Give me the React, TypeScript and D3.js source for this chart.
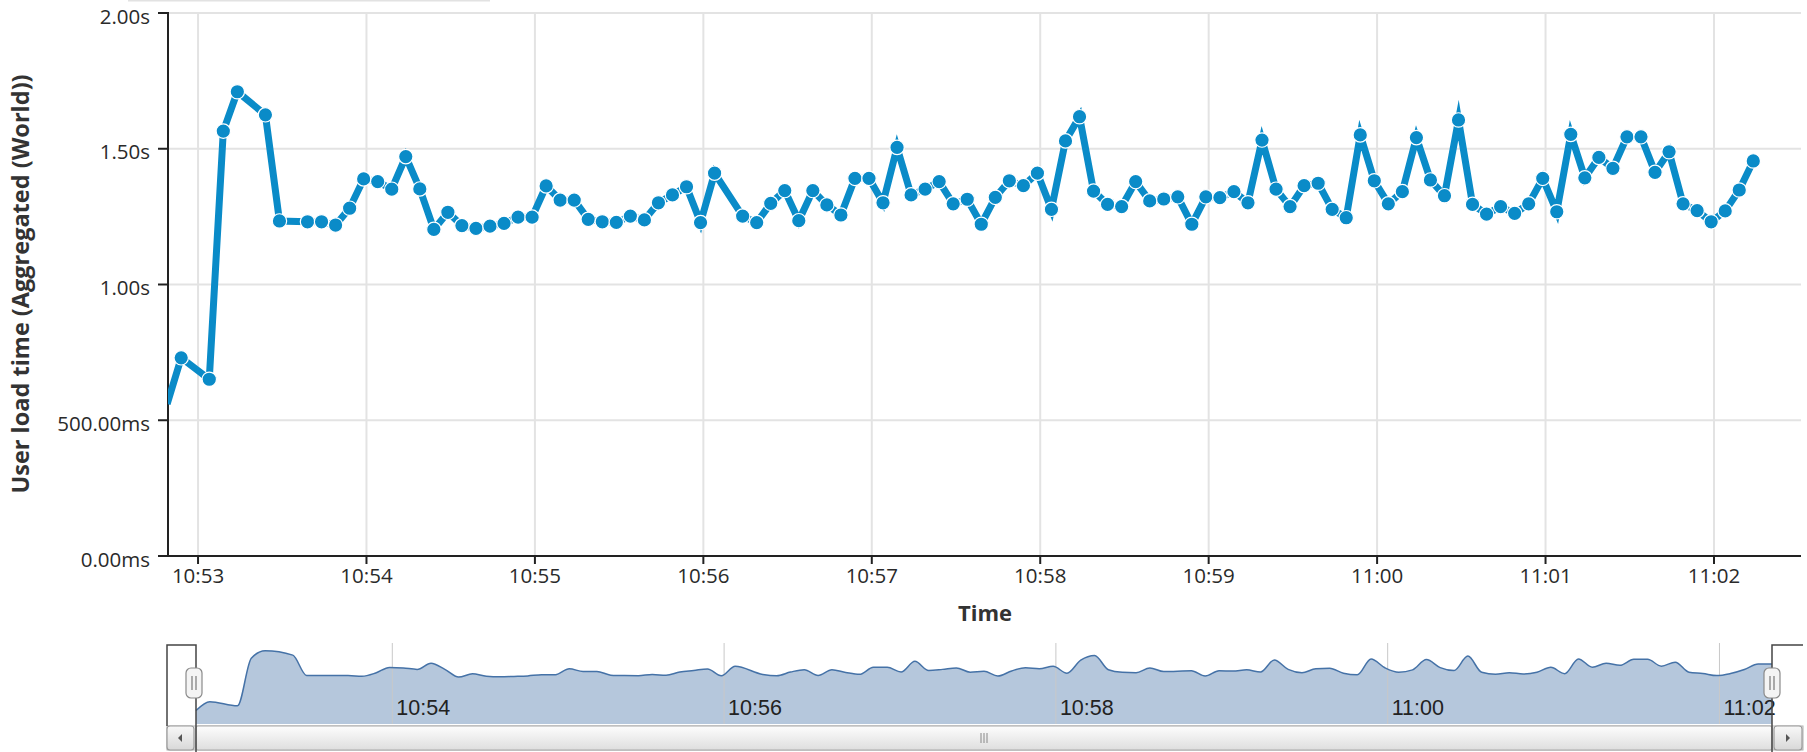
import React from "react";
import * as d3 from "d3";

// ---- data ----
const sampleTimes = [
  "10:52:49", "10:52:54", "10:53:04", "10:53:09", "10:53:14", "10:53:24", "10:53:29", "10:53:39",
  "10:53:44", "10:53:49", "10:53:54", "10:53:59", "10:54:04", "10:54:09", "10:54:14", "10:54:19",
  "10:54:24", "10:54:29", "10:54:34", "10:54:39", "10:54:44", "10:54:49", "10:54:54", "10:54:59",
  "10:55:04", "10:55:09", "10:55:14", "10:55:19", "10:55:24", "10:55:29", "10:55:34", "10:55:39",
  "10:55:44", "10:55:49", "10:55:54", "10:55:59", "10:56:04", "10:56:14", "10:56:19", "10:56:24",
  "10:56:29", "10:56:34", "10:56:39", "10:56:44", "10:56:49", "10:56:54", "10:56:59", "10:57:04",
  "10:57:09", "10:57:14", "10:57:19", "10:57:24", "10:57:29", "10:57:34", "10:57:39", "10:57:44",
  "10:57:49", "10:57:54", "10:57:59", "10:58:04", "10:58:09", "10:58:14", "10:58:19", "10:58:24",
  "10:58:29", "10:58:34", "10:58:39", "10:58:44", "10:58:49", "10:58:54", "10:58:59", "10:59:04",
  "10:59:09", "10:59:14", "10:59:19", "10:59:24", "10:59:29", "10:59:34", "10:59:39", "10:59:44",
  "10:59:49", "10:59:54", "10:59:59", "11:00:04", "11:00:09", "11:00:14", "11:00:19", "11:00:24",
  "11:00:29", "11:00:34", "11:00:39", "11:00:44", "11:00:49", "11:00:54", "11:00:59", "11:01:04",
  "11:01:09", "11:01:14", "11:01:19", "11:01:24", "11:01:29", "11:01:34", "11:01:39", "11:01:44",
  "11:01:49", "11:01:54", "11:01:59", "11:02:04", "11:02:09", "11:02:14",
];

const loadTimeSeconds = [
  0.56, 0.73, 0.651, 1.565, 1.71, 1.625, 1.234, 1.231,
  1.231, 1.219, 1.281, 1.389, 1.379, 1.351, 1.471, 1.352,
  1.203, 1.266, 1.217, 1.207, 1.215, 1.225, 1.248, 1.248,
  1.363, 1.311, 1.311, 1.24, 1.231, 1.229, 1.252, 1.238,
  1.301, 1.33, 1.36, 1.228, 1.41, 1.252, 1.228, 1.299,
  1.346, 1.235, 1.346, 1.293, 1.256, 1.391, 1.391, 1.301,
  1.505, 1.33, 1.351, 1.379, 1.297, 1.314, 1.222, 1.321,
  1.382, 1.364, 1.41, 1.277, 1.529, 1.618, 1.344, 1.295,
  1.287, 1.379, 1.308, 1.315, 1.323, 1.222, 1.323, 1.32,
  1.342, 1.301, 1.532, 1.351, 1.287, 1.364, 1.373, 1.277,
  1.246, 1.551, 1.382, 1.297, 1.342, 1.541, 1.385, 1.327,
  1.606, 1.295, 1.259, 1.287, 1.262, 1.297, 1.391, 1.268,
  1.553, 1.393, 1.468, 1.428, 1.544, 1.544, 1.413, 1.489,
  1.297, 1.272, 1.231, 1.271, 1.348, 1.455,
];

const mainTimeRange = ["10:52:49.3", "11:02:31"];
const navigatorTimeRange = ["10:52:49", "11:02:19"];
const navigatorValueRange = [0.3, 1.82];

const yTickValues = [0, 0.5, 1, 1.5, 2];
const yTickLabels = ["0.00ms", "500.00ms", "1.00s", "1.50s", "2.00s"];
const xTickLabels = ["10:53", "10:54", "10:55", "10:56", "10:57", "10:58", "10:59", "11:00", "11:01", "11:02"];
const navTickLabels = ["10:54", "10:56", "10:58", "11:00", "11:02"];
const yAxisTitle = "User load time (Aggregated (World))";
const xAxisTitle = "Time";

// ---- helpers ----
const parseT = (s: string) => {
  const parts = s.split(":");
  const secF = parts.length > 2 ? parseFloat(parts[2]) : 0;
  return new Date(2020, 0, 1, +parts[0], +parts[1], Math.floor(secF), Math.round((secF % 1) * 1000));
};

const W = 1807;
const H = 752;
const plot = { left: 168, right: 1801, top: 13, bottom: 556 };
const nav = { left: 196, right: 1772, top: 645, bottom: 724 };

const LINE = "#0a8bc8";
const FONT = "'Open Sans', 'DejaVu Sans', sans-serif";

export default function App() {
  const points = sampleTimes.map((t, i) => ({ t: parseT(t), v: loadTimeSeconds[i] }));

  const x = d3.scaleTime().domain(mainTimeRange.map(parseT)).range([plot.left, plot.right]);
  const y = d3.scaleLinear().domain([0, 2]).range([plot.bottom, plot.top]);

  const nx = d3.scaleTime().domain(navigatorTimeRange.map(parseT)).range([nav.left, nav.right]);
  const ny = d3.scaleLinear().domain(navigatorValueRange).range([nav.bottom, nav.top]);

  const line = d3
    .line<{ t: Date; v: number }>()
    .x((d) => x(d.t))
    .y((d) => y(d.v));

  const navPts = [...points, { t: nx.domain()[1], v: points[points.length - 1].v }];
  const navArea = d3
    .area<{ t: Date; v: number }>()
    .x((d) => nx(d.t))
    .y0(nav.bottom)
    .y1((d) => ny(d.v))
    .curve(d3.curveMonotoneX);
  const navLine = d3
    .line<{ t: Date; v: number }>()
    .x((d) => nx(d.t))
    .y((d) => ny(d.v))
    .curve(d3.curveMonotoneX);

  const xTicks = xTickLabels.map((l) => ({ l, px: x(parseT(l)) }));
  const navTicks = navTickLabels.map((l) => ({ l, px: nx(parseT(l)) }));
  const d0 = x.domain()[0].getTime();
  const d1 = x.domain()[1].getTime();

  const sbTop = 726;
  const sbBot = 750;

  return (
    <svg
      width={W}
      height={H}
      style={{ position: "absolute", left: 0, top: 0, background: "#fff" }}
      xmlns="http://www.w3.org/2000/svg"
    >
      <defs>
        <clipPath id="plotClip">
          <rect x={plot.left} y={0} width={plot.right - plot.left + 6} height={plot.bottom} />
        </clipPath>
        <linearGradient id="sbGrad" x1="0" y1="0" x2="0" y2="1">
          <stop offset="0" stopColor="#fdfdfd" />
          <stop offset="1" stopColor="#dedede" />
        </linearGradient>
        <linearGradient id="btnGrad" x1="0" y1="0" x2="0" y2="1">
          <stop offset="0" stopColor="#f8f8f8" />
          <stop offset="1" stopColor="#d8d8d8" />
        </linearGradient>
      </defs>

      {/* faint top border */}
      <line x1={128} x2={490} y1={0.75} y2={0.75} stroke="#e2e2e2" strokeWidth={1.5} />

      {/* gridlines */}
      {yTickValues.map((v) => (
        <line key={"gy" + v} x1={plot.left} x2={plot.right} y1={y(v)} y2={y(v)} stroke="#e3e3e3" strokeWidth={2} />
      ))}
      {xTicks.map((tk) => (
        <line key={"gx" + tk.l} x1={tk.px} x2={tk.px} y1={plot.top} y2={plot.bottom} stroke="#e3e3e3" strokeWidth={2} />
      ))}

      {/* axes */}
      <line x1={plot.left} x2={plot.left} y1={plot.top - 1} y2={plot.bottom + 1} stroke="#222" strokeWidth={2} />
      <line x1={plot.left - 1} x2={plot.right} y1={plot.bottom} y2={plot.bottom} stroke="#222" strokeWidth={2} />
      {yTickValues.map((v, i) => (
        <g key={"ty" + v}>
          <line x1={plot.left - 10} x2={plot.left} y1={y(v)} y2={y(v)} stroke="#222" strokeWidth={2} />
          <text
            x={150}
            y={y(v) + 10.5}
            textAnchor="end"
            fontFamily={FONT}
            fontSize={20.5}
            fill="#2a2a2a"
          >
            {yTickLabels[i]}
          </text>
        </g>
      ))}
      {xTicks.map((tk) => (
        <g key={"tx" + tk.l}>
          <line x1={tk.px} x2={tk.px} y1={plot.bottom} y2={plot.bottom + 8} stroke="#222" strokeWidth={2} />
          <text x={tk.px} y={583} textAnchor="middle" fontFamily={FONT} fontSize={20.5} fill="#2a2a2a">
            {tk.l}
          </text>
        </g>
      ))}

      {/* axis titles */}
      <text
        transform={`translate(29,284) rotate(-90)`}
        textAnchor="middle"
        fontFamily={FONT}
        fontWeight="bold"
        fontSize={23.5}
        fill="#333"
      >
        {yAxisTitle}
      </text>
      <text x={985} y={621} textAnchor="middle" fontFamily={FONT} fontWeight="bold" fontSize={22} fill="#333">
        {xAxisTitle}
      </text>

      {/* series */}
      <g clipPath="url(#plotClip)">
        <path
          d={line(points) || ""}
          fill="none"
          stroke={LINE}
          strokeWidth={7}
          strokeLinejoin="miter"
          strokeMiterlimit={10}
        />
        {points
          .filter((p) => p.t.getTime() > d0 && p.t.getTime() < d1)
          .map((p, i) => (
            <circle key={i} cx={x(p.t)} cy={y(p.v)} r={7.2} fill={LINE} stroke="#fff" strokeWidth={1.2} />
          ))}
      </g>

      {/* navigator */}
      <path d={navArea(navPts) || ""} fill="rgba(69,114,167,0.4)" stroke="none" />
      {navTicks.map((tk) => (
        <g key={"nt" + tk.l}>
          <line x1={tk.px} x2={tk.px} y1={nav.top - 2} y2={nav.bottom} stroke="#c8c8c8" strokeWidth={1} />
          <text x={tk.px + 4} y={715} fontFamily="'Liberation Sans', Arial, sans-serif" fontSize={21.5} fill="#222">
            {tk.l}
          </text>
        </g>
      ))}
      <path d={navLine(navPts) || ""} fill="none" stroke="#4572A7" strokeWidth={1.5} />

      {/* scrollbar */}
      <rect x={167} y={sbTop} width={1803 - 167} height={sbBot - sbTop} fill="url(#sbGrad)" stroke="#b0b0b0" strokeWidth={1} />
      <rect x={nav.left} y={sbTop} width={nav.right - nav.left} height={sbBot - sbTop} fill="url(#sbGrad)" stroke="#a8a8a8" strokeWidth={1} rx={2} />
      <rect x={167} y={sbTop} width={nav.left - 167 - 2} height={sbBot - sbTop} fill="url(#btnGrad)" stroke="#9a9a9a" strokeWidth={1.2} rx={3} />
      <rect x={nav.right + 2} y={sbTop} width={1803 - nav.right - 3} height={sbBot - sbTop} fill="url(#btnGrad)" stroke="#9a9a9a" strokeWidth={1.2} rx={3} />
      <path d={`M182,734 L178,738 L182,742 Z`} fill="#555" />
      <path d={`M1786,734 L1790,738 L1786,742 Z`} fill="#555" />
      {[-3, 0, 3].map((dx) => (
        <line key={"g" + dx} x1={(nav.left + nav.right) / 2 + dx} x2={(nav.left + nav.right) / 2 + dx} y1={733} y2={743} stroke="#888" strokeWidth={1} />
      ))}

      {/* outline */}
      <path d={`M167,${sbTop} V${nav.top} H${nav.left} V${H}`} fill="none" stroke="#444" strokeWidth={1.5} />
      <path d={`M1803,${nav.top} H${nav.right} V${H}`} fill="none" stroke="#444" strokeWidth={1.5} />

      {/* handles */}
      {[nav.left - 2, nav.right].map((hx) => (
        <g key={"h" + hx}>
          <rect x={hx - 8} y={668} width={16} height={30} rx={5} fill="#f4f4f4" stroke="#8a8a8a" strokeWidth={1.2} />
          <line x1={hx - 2} x2={hx - 2} y1={676} y2={690} stroke="#777" strokeWidth={1.2} />
          <line x1={hx + 2} x2={hx + 2} y1={676} y2={690} stroke="#777" strokeWidth={1.2} />
        </g>
      ))}
    </svg>
  );
}
